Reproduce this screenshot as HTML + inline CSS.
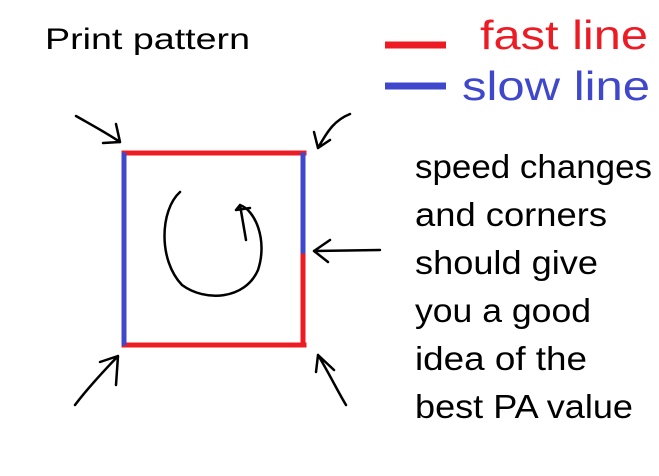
<!DOCTYPE html>
<html><head><meta charset="utf-8"><style>
html,body{margin:0;padding:0;background:#fff;}
svg{display:block;}
text{font-family:"Liberation Sans",sans-serif;}
</style></head><body>
<svg width="659" height="476" viewBox="0 0 659 476">
<rect width="659" height="476" fill="#fff"/>
<text x="45" y="49" font-size="30" fill="#000" textLength="205" lengthAdjust="spacingAndGlyphs">Print pattern</text>
<g>
<line x1="385" y1="45" x2="446" y2="45" stroke="#ed1c24" stroke-width="7"/>
<line x1="385" y1="86" x2="446" y2="86" stroke="#3f48cc" stroke-width="7"/>
<text x="480" y="49" font-size="41" fill="#ed1c24" textLength="168" lengthAdjust="spacingAndGlyphs">fast line</text>
<text x="462" y="100" font-size="41" fill="#3f48cc" textLength="188" lengthAdjust="spacingAndGlyphs">slow line</text>
</g>
<g stroke-width="5" stroke-linecap="square">
<line x1="124" y1="153" x2="304" y2="153" stroke="#ed1c24"/>
<line x1="124" y1="345" x2="304" y2="345" stroke="#ed1c24"/>
<line x1="124" y1="155" x2="124" y2="343" stroke="#3f48cc"/>
<line x1="303" y1="155" x2="303" y2="254" stroke="#3f48cc"/>
<line x1="303" y1="256" x2="303" y2="343" stroke="#ed1c24"/>
</g>
<g fill="none" stroke="#000" stroke-width="2.5" stroke-linecap="round" stroke-linejoin="round">
<path d="M76 116 C90 124 105 132 120 142 M120 142 L116 124 M120 142 L103 143"/>
<path d="M350 114 C335 120 328 130 318 148 M318 148 L314 132 M318 148 L330 140"/>
<path d="M380 250 L314 251 M314 251 L330 240 M314 251 L328 262"/>
<path d="M75 405 C90 385 105 370 118 356 M118 356 L100 362 M118 356 L116 385"/>
<path d="M346 405 C337 390 330 375 318 355 M318 355 L316 372 M318 355 L334 370"/>
<path d="M180 192 C160 210 158 260 182 285 C205 302 245 300 258 270 C268 240 255 210 240 205 M240 205 L246 240 M240 205 L236 210 L250 208"/>
</g>
<g font-size="33" fill="#000">
<text x="415" y="178" textLength="237" lengthAdjust="spacingAndGlyphs">speed changes</text>
<text x="415" y="226" textLength="192" lengthAdjust="spacingAndGlyphs">and corners</text>
<text x="415" y="274" textLength="183" lengthAdjust="spacingAndGlyphs">should give</text>
<text x="415" y="322" textLength="176" lengthAdjust="spacingAndGlyphs">you a good</text>
<text x="415" y="370" textLength="172" lengthAdjust="spacingAndGlyphs">idea of the</text>
<text x="415" y="418" textLength="218" lengthAdjust="spacingAndGlyphs">best PA value</text>
</g>
</svg>
</body></html>
